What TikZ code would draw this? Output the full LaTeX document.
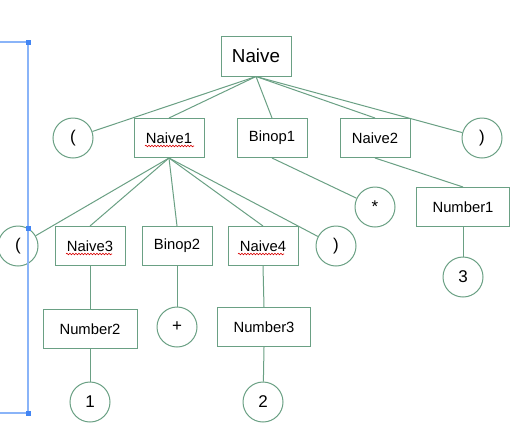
\documentclass[tikz,border=0pt]{standalone}
\usepackage{fontspec}
\setmainfont{Liberation Sans}
\usetikzlibrary{calc,decorations.pathmorphing}
\definecolor{edgegreen}{HTML}{6AA084}
\definecolor{selblue}{HTML}{8AB4F8}
\definecolor{handleblue}{HTML}{4285F4}
\tikzset{
  tbox/.style={draw=edgegreen, line width=1pt, minimum width=70pt, minimum height=39pt, inner sep=0pt, font=\fontsize{14.8}{16}\selectfont},
  wbox/.style={tbox, minimum width=93pt},
  bigbox/.style={tbox, minimum height=40pt, font=\fontsize{18.8}{20}\selectfont},
  leaf/.style={draw=edgegreen, line width=1pt, circle, minimum size=40pt, inner sep=0pt, font=\fontsize{17}{18}\selectfont},
  conn/.style={draw=edgegreen, line width=1pt},
  spell/.style={draw=red!85!black, line width=0.6pt, decorate, decoration={snake, amplitude=0.8pt, segment length=3pt}},
  handle/.style={fill=handleblue}
}
\begin{document}
\begin{tikzpicture}[x=1pt, y=-1pt]
\useasboundingbox[fill=white] (0,0) rectangle (529,429);
% nodes
\node[bigbox] (naive) at (256,56) {Naive};
\node[leaf] (lp1) at (73,138) {(};
\node[tbox] (naive1) at (169,138) {Naive1};
\node[tbox] (binop1) at (272,138) {Binop1};
\node[tbox] (naive2) at (375,138) {Naive2};
\node[leaf] (rp1) at (482,138) {)};
\node[leaf] (star) at (375,207) {*};
\node[wbox] (number1) at (463,207) {Number1\hspace{10pt}};
\node[leaf] (three) at (463,277) {3};
\node[leaf] (lp2) at (18,246) {(};
\node[tbox] (naive3) at (90,246) {Naive3};
\node[tbox] (binop2) at (177,246) {Binop2};
\node[tbox] (naive4) at (263,246) {Naive4};
\node[leaf] (rp2) at (336,246) {)};
\node[wbox, minimum width=94pt] (number2) at (90,329) {Number2\hspace{10pt}};
\node[leaf] (plus) at (177,327) {+};
\node[wbox] (number3) at (264,327) {Number3\hspace{10pt}};
\node[leaf] (one) at (90,402) {1};
\node[leaf] (two) at (263,402) {2};
% connectors
\draw[conn] (naive.south) -- (lp1);
\draw[conn] (naive.south) -- (naive1.north);
\draw[conn] (naive.south) -- (binop1.north);
\draw[conn] (naive.south) -- (naive2.north);
\draw[conn] (naive.south) -- (rp1);
\draw[conn] (binop1.south) -- (star);
\draw[conn] (naive2.south) -- (number1.north);
\draw[conn] (number1.south) -- (three);
\draw[conn] (naive1.south) -- (lp2);
\draw[conn] (naive1.south) -- (naive3.north);
\draw[conn] (naive1.south) -- (binop2.north);
\draw[conn] (naive1.south) -- (naive4.north);
\draw[conn] (naive1.south) -- (rp2);
\draw[conn] (naive3.south) -- (number2.north);
\draw[conn] (binop2.south) -- (plus);
\draw[conn] (naive4.south) -- (number3.north);
\draw[conn] (number2.south) -- (one);
\draw[conn] (number3.south) -- (two);
% spellcheck underlines
\draw[spell] ($(naive1)+(-24,8)$) -- ($(naive1)+(25,8)$);
\draw[spell] ($(naive3)+(-24,8)$) -- ($(naive3)+(22,8)$);
\draw[spell] ($(naive4)+(-25,8)$) -- ($(naive4)+(21,8)$);
% selection bracket
\draw[selblue, line width=1.5pt] (0,42) -- (28,42) -- (28,413) -- (0,413);
\fill[handle] (25.5,39.5) rectangle (30.5,44.5);
\fill[handle] (25.5,225.5) rectangle (30.5,230.5);
\fill[handle] (25.5,410.5) rectangle (30.5,415.5);
\end{tikzpicture}
\end{document}
